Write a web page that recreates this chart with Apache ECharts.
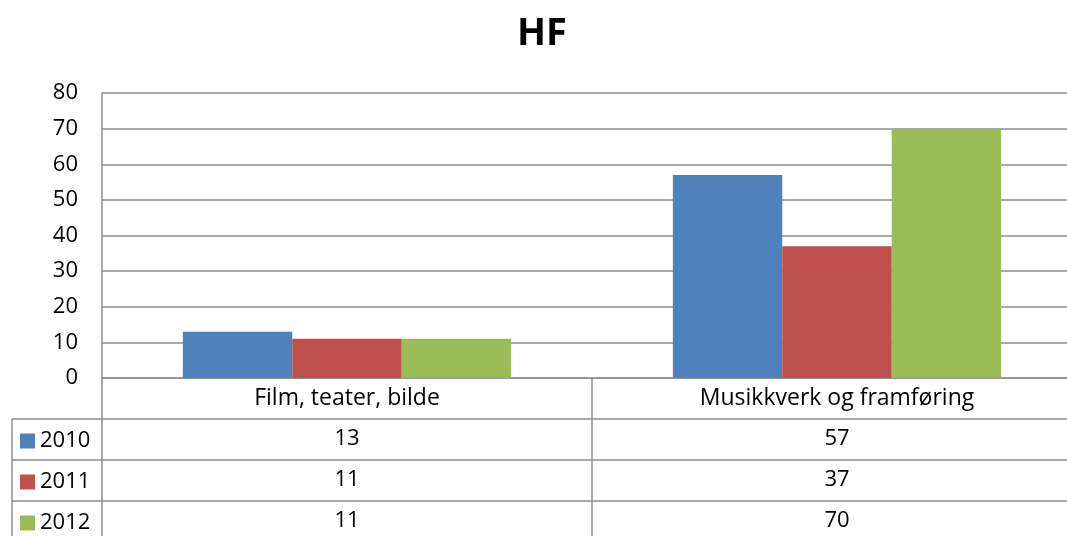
<!DOCTYPE html>
<html>
<head>
<meta charset="utf-8">
<script src="https://cdn.jsdelivr.net/npm/echarts@6/dist/echarts.min.js"></script>
<style>
  html, body { margin: 0; padding: 0; overflow: hidden; background: #fff; }
  #chart { width: 1100px; height: 536px; }
</style>
</head>
<body>
<div id="chart"></div>
<script>
const categories = ['Film, teater, bilde', 'Musikkverk og framføring']
const years = ['2010', '2011', '2012']
const values2010 = [13, 57]
const values2011 = [11, 37]
const values2012 = [11, 70]
const yTicks = { min: 0, max: 80, interval: 10 }

const colors = ['#4f81bd', '#c0504d', '#9bbb59']
const lineColor = '#8e8e8e'
const font = '"Open Sans", sans-serif'
const seriesValues = [values2010, values2011, values2012]

const myChart = echarts.init(document.getElementById('chart'))

// rader i datatabellen: kategorier + én akse per år
const rowH = 41
function tableAxis(data, offset, margin, size) {
    return {
        type: 'category',
        data: data,
        position: 'bottom',
        offset: offset,
        axisLine: { show: true, lineStyle: { color: lineColor, width: 1.5 } },
        axisTick: { show: true, length: rowH, lineStyle: { color: lineColor, width: 1.5 } },
        axisLabel: { color: '#000', fontFamily: font, fontSize: size, margin: margin }
    }
}

const xAxes = [tableAxis(categories, 0, 9, 23)]
seriesValues.forEach((vals, i) => {
    xAxes.push(tableAxis(vals.map(String), rowH * (i + 1), 9, 22))
})

const option = {
    title: {
        text: 'HF',
        left: 537,
        textAlign: 'center',
        top: 10,
        textStyle: { fontFamily: font, fontSize: 38, fontWeight: 'bold', color: '#000' }
    },
    legend: {
        data: years,
        orient: 'vertical',
        left: 20,
        top: 430,
        height: 160,
        padding: 0,
        icon: 'rect',
        itemWidth: 15,
        itemHeight: 15,
        itemGap: 19,
        selectedMode: false,
        textStyle: { fontFamily: font, fontSize: 22, color: '#000', lineHeight: 20 }
    },
    grid: { left: 102, right: 18, top: 93, bottom: 158 },
    xAxis: xAxes,
    yAxis: {
        type: 'value',
        min: yTicks.min,
        max: yTicks.max,
        interval: yTicks.interval,
        axisLine: { show: true, lineStyle: { color: lineColor, width: 1.5 } },
        axisTick: { show: false },
        axisLabel: { color: '#000', fontFamily: font, fontSize: 22, margin: 24 },
        splitLine: { lineStyle: { color: lineColor, width: 1.5 } }
    },
    series: years.map((y, i) => ({
        name: y,
        type: 'bar',
        xAxisIndex: 0,
        data: seriesValues[i],
        itemStyle: { color: colors[i] },
        barGap: '0%',
        barCategoryGap: '33%',
        silent: true
    })),
    // linjer for forklaringsdelen av tabellen
    graphic: [
        { type: 'line', shape: { x1: 12, y1: 419, x2: 102, y2: 419 }, style: { stroke: lineColor, lineWidth: 1.5 } },
        { type: 'line', shape: { x1: 12, y1: 460, x2: 102, y2: 460 }, style: { stroke: lineColor, lineWidth: 1.5 } },
        { type: 'line', shape: { x1: 12, y1: 501, x2: 102, y2: 501 }, style: { stroke: lineColor, lineWidth: 1.5 } },
        { type: 'line', shape: { x1: 12, y1: 419, x2: 12, y2: 536 }, style: { stroke: lineColor, lineWidth: 1.5 } }
    ]
}

myChart.setOption(option)
</script>
</body>
</html>
